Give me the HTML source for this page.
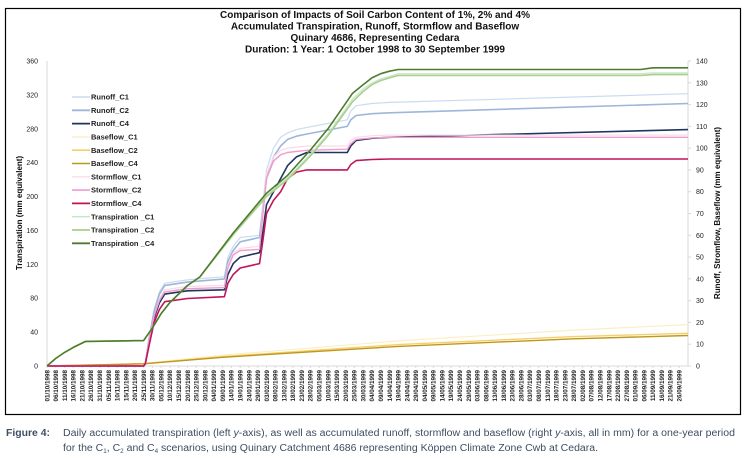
<!DOCTYPE html>
<html><head><meta charset="utf-8"><style>
html,body{margin:0;padding:0;background:#fff;}
svg{display:block;font-family:"Liberation Sans",sans-serif;}
</style></head><body>
<svg id="chart" width="750" height="458" viewBox="0 0 750 458" xmlns="http://www.w3.org/2000/svg">
<rect x="5.5" y="8.5" width="735" height="406" fill="none" stroke="#000" stroke-width="1.2"/>
<g font-weight="bold" font-size="10" text-anchor="middle" fill="#111">
<text x="375" y="18">Comparison of Impacts of Soil Carbon Content of 1%, 2% and 4%</text>
<text x="375" y="29.5">Accumulated Transpiration, Runoff, Stormflow and Baseflow</text>
<text x="375" y="41">Quinary 4686, Representing Cedara</text>
<text x="375" y="52.5">Duration: 1 Year: 1 October 1998 to 30 September 1999</text>
</g>
<g id="axes"></g>
<g id="series"></g>
<g id="legend"></g>
<text transform="translate(22,213) rotate(-90)" text-anchor="middle" font-size="8" font-weight="bold" fill="#111">Transpiration (mm equivalent)</text>
<text transform="translate(720,213) rotate(-90)" text-anchor="middle" font-size="8" font-weight="bold" fill="#111">Runoff, Stromflow, Baseflow (mm equivalent)</text>
<g font-size="10" fill="#3d4e62">
<text x="6" y="436" font-weight="bold" textLength="44" lengthAdjust="spacingAndGlyphs">Figure 4:</text>
<text x="63" y="436" textLength="672" lengthAdjust="spacingAndGlyphs">Daily accumulated transpiration (left <tspan font-style="italic">y</tspan>-axis), as well as accumulated runoff, stormflow and baseflow (right <tspan font-style="italic">y</tspan>-axis, all in mm) for a one-year period</text>
<text x="63" y="451" textLength="535" lengthAdjust="spacingAndGlyphs">for the C<tspan font-size="6" dy="2">1</tspan><tspan dy="-2">, C</tspan><tspan font-size="6" dy="2">2</tspan><tspan dy="-2"> and C</tspan><tspan font-size="6" dy="2">4</tspan><tspan dy="-2"> scenarios, using Quinary Catchment 4686 representing Köppen Climate Zone Cwb at Cedara.</tspan></text>
</g>
</svg>
<script>
// ---- data (day index from 1 Oct 1998, value in mm) ----
const leftTicks = [0,40,80,120,160,200,240,280,320,360];
const rightTicks = [0,10,20,30,40,50,60,70,80,90,100,110,120,130,140];
const transpDays = [0,5,10,15,22,55,60,65,70,80,87,106,125,137,150,160,174,180,185,190,195,200,338,345,365];
const transpC4 = [0,9,16,22,29,30,45,62,75,95,105,157,204,225,255,280,322,332,340,345,348,350,350,352,352];
const transpC2 = [0,9,16,22,29,30,45,62,75,95,105,155,200,220,248,272,312,324,332,337,340,343,343,344,344];
const transpC1 = [0,9,16,22,29,30,45,62,75,95,105,156,202,222,250,274,315,327,334,339,342,345,345,346,346];
const runDays = [0,55,56,58,61,64,67,80,101,103,106,110,121,123,125,129,133,137,142,148,171,173,176,185,195,365];
const runoffC4 = [0,0,1,10,22,29,33,34.5,35,42,47,50,52,62,74,80,86,92,96,98,98,101,103.5,104.5,105,108.5];
const runoffC2 = [0,0,1,12,25,33,37,38.5,40,48,53,57,59,72,86,96,101,104,105.5,106.5,110,113,115,115.8,116.2,120.5];
const runoffC1 = [0,0,1,13,26,34,38,39.5,41,50,55,59,60,75,90,100,105,107,108.5,109.5,113,117,119.5,120.5,121,125];
const stormC4 = [0,0,1,9,20,26,29.5,31,31.8,38,42,45,47,58,70,76,80,86,89,90,90,92.5,94.3,94.8,95,95];
const stormC2 = [0,0,1,11,23,30,34,35.5,36,45,51,53,53.5,70,86,94,97,98,98.5,99,99.5,102,104,104.7,105,105];
const stormC1 = [0,0,1,11,23,31,35,36.5,37,46,52,54,55,72,88,96,99,100,100.5,101,101,103.5,105,105.7,106,106];
const baseDays = [0,55,100,200,300,365];
const baseC4 = [0,1,4,9,12.5,14];
const baseC2 = [0,1,4.3,9.8,13.5,15];
const baseC1 = [0,1.2,5,11.5,16.5,19];

const NS="http://www.w3.org/2000/svg";
const X0=47, X1=688, Y0=366, Y1=61;
const xDay = d => X0 + d*(X1-X0)/365;
const yL = v => Y0 - v*(Y0-Y1)/360;
const yR = v => Y0 - v*(Y0-Y1)/140;
function mk(tag, attrs, parent){const e=document.createElementNS(NS,tag);for(const k in attrs)e.setAttribute(k,attrs[k]);parent.appendChild(e);return e;}

const axes=document.getElementById('axes');
mk('line',{x1:X0,y1:Y1,x2:X0,y2:Y0,stroke:'#d9d9d9','stroke-width':1},axes);
mk('line',{x1:X1,y1:Y1,x2:X1,y2:Y0,stroke:'#d9d9d9','stroke-width':1},axes);
mk('line',{x1:X0,y1:Y0,x2:X1,y2:Y0,stroke:'#d9d9d9','stroke-width':1},axes);
leftTicks.forEach(v=>{
  const t=mk('text',{x:X0-9,y:yL(v)+2.5,'text-anchor':'end','font-size':7,fill:'#222'},axes);
  t.textContent=v;
  
  
});
rightTicks.forEach(v=>{
  mk('line',{x1:X1,y1:yR(v),x2:X1+3,y2:yR(v),stroke:'#d9d9d9'},axes);
  const t=mk('text',{x:X1+8,y:yR(v)+2.5,'font-size':7,fill:'#222'},axes);
  t.textContent=v;
  
  
});
const start=new Date(Date.UTC(1998,9,1));
for(let d=0; d<=360; d+=5){
  const dt=new Date(start.getTime()+d*86400000);
  const s=String(dt.getUTCDate()).padStart(2,'0')+'/'+String(dt.getUTCMonth()+1).padStart(2,'0')+'/'+dt.getUTCFullYear();
  const x=xDay(d)+2.3;
  mk('line',{x1:xDay(d),y1:Y0,x2:xDay(d),y2:Y0+2,stroke:'#d9d9d9'},axes);
  const t=mk('text',{x:0,y:0,transform:`translate(${x},${Y0+4}) rotate(-90)`,'text-anchor':'end','font-size':6.3,'font-weight':'bold',fill:'#222'},axes);
  t.textContent=s;
  
  
}

const series=[
 {name:'Runoff_C1',days:runDays,vals:runoffC1,axis:'R',color:'#c9dcef',w:1.2},
 {name:'Runoff_C2',days:runDays,vals:runoffC2,axis:'R',color:'#9db6da',w:1.6},
 {name:'Runoff_C4',days:runDays,vals:runoffC4,axis:'R',color:'#1f3560',w:1.6},
 {name:'Baseflow_C1',days:baseDays,vals:baseC1,axis:'R',color:'#fbefc6',w:1.2},
 {name:'Baseflow_C2',days:baseDays,vals:baseC2,axis:'R',color:'#f5d06a',w:1.4},
 {name:'Baseflow_C4',days:baseDays,vals:baseC4,axis:'R',color:'#bf971c',w:1.4},
 {name:'Stormflow_C1',days:runDays,vals:stormC1,axis:'R',color:'#f9dbe8',w:1.2},
 {name:'Stormflow_C2',days:runDays,vals:stormC2,axis:'R',color:'#f09ccd',w:1.4},
 {name:'Stormflow_C4',days:runDays,vals:stormC4,axis:'R',color:'#c01559',w:1.6},
 {name:'Transpiration _C1',days:transpDays,vals:transpC1,axis:'L',color:'#c7e5c7',w:1.2},
 {name:'Transpiration _C2',days:transpDays,vals:transpC2,axis:'L',color:'#a8cf8c',w:1.6},
 {name:'Transpiration _C4',days:transpDays,vals:transpC4,axis:'L',color:'#4e7c2e',w:1.6}
];
const sg=document.getElementById('series');
series.forEach(s=>{
  const yf=s.axis==='L'?yL:yR;
  const pts=s.days.map((d,i)=>xDay(d).toFixed(1)+','+yf(s.vals[i]).toFixed(1)).join(' ');
  const p=mk('polyline',{points:pts,fill:'none',stroke:s.color,'stroke-width':s.w,'stroke-linejoin':'round'},sg);
  
  
});
const lg=document.getElementById('legend');


series.forEach((s,i)=>{
  const y=97+i*13.3;
  const g=mk('g',{},lg);
  
  
  mk('line',{x1:72,y1:y,x2:90,y2:y,stroke:s.color,'stroke-width':s.w+0.2},g);
  const t=mk('text',{x:91,y:y+2.6,'font-size':7.5,'font-weight':'bold',fill:'#222'},g);
  t.textContent=s.name;
});
</script>
</body></html>
